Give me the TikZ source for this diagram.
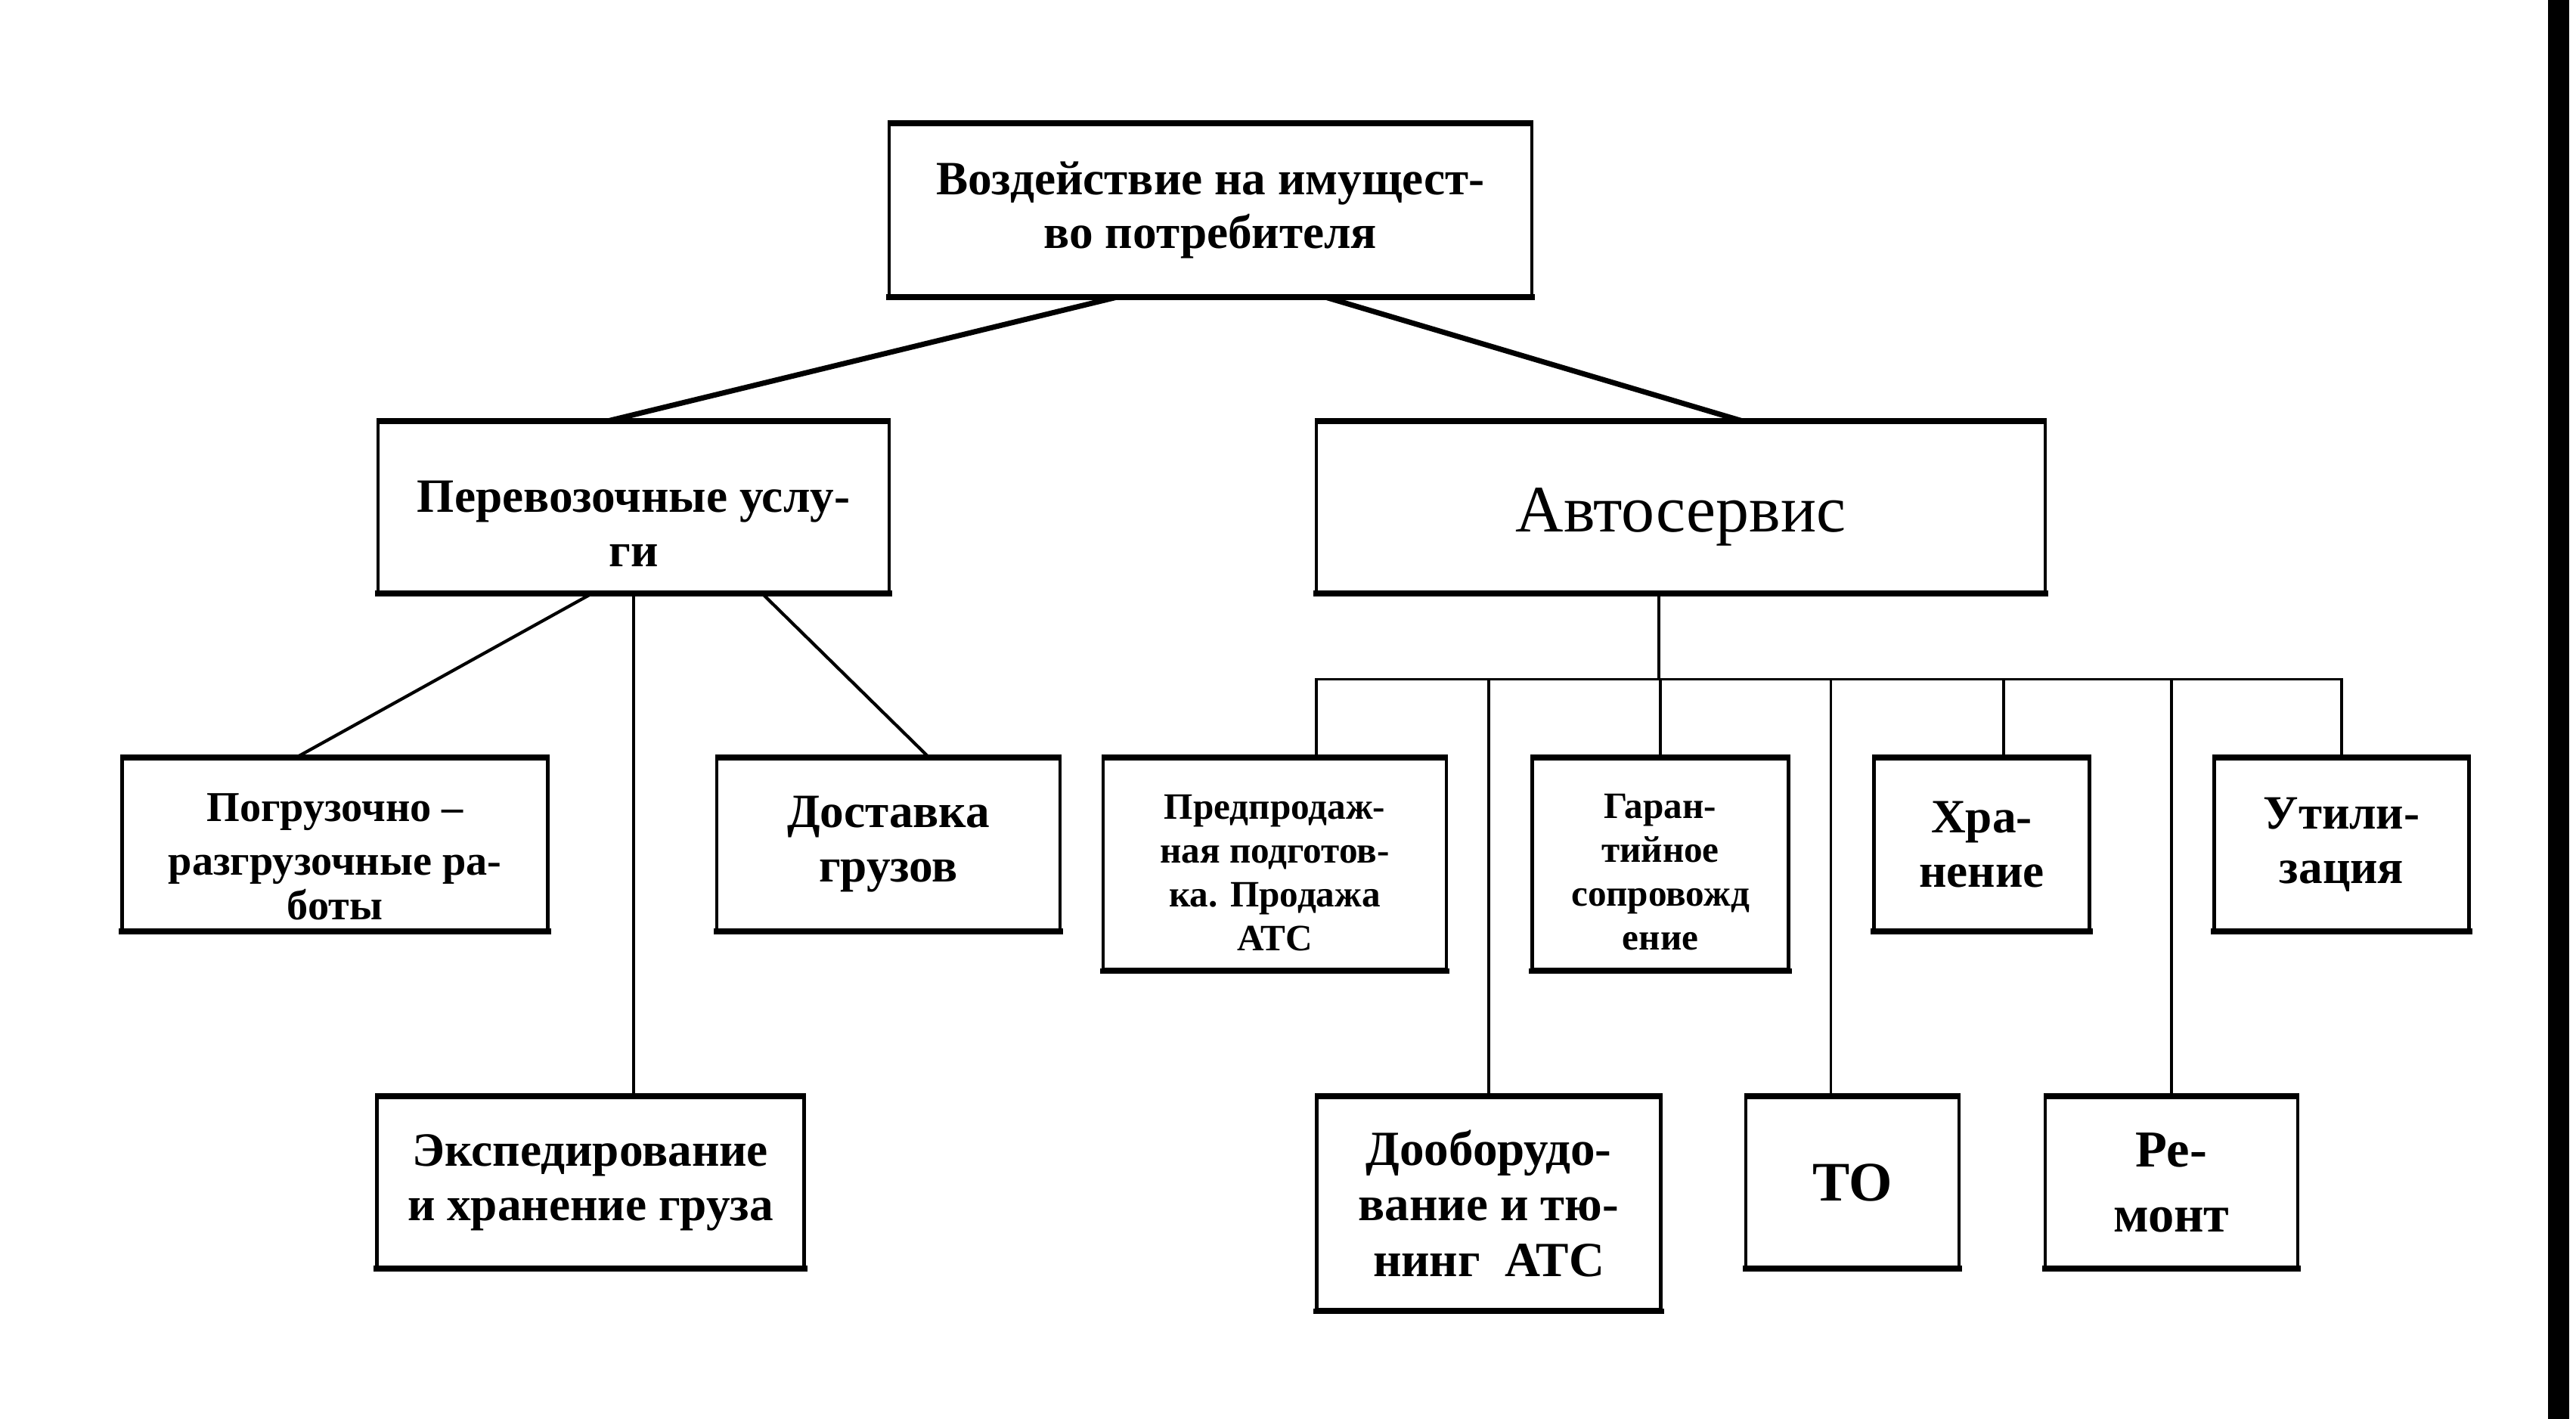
\documentclass[tikz,border=0pt]{standalone}
\usepackage{fontspec}
\setmainfont{Liberation Serif}
\usetikzlibrary{calc}
\newcommand\midbold{\fontsize{18}{20.5}\selectfont\bfseries}
\newcommand\smallbold{\fontsize{14}{16.5}\selectfont\bfseries}
\begin{document}
\begin{tikzpicture}[
    box/.style={draw, line width=1.2pt, inner sep=0pt, align=center, font=\midbold},
    link/.style={line width=2pt},
    twig/.style={line width=0.9pt}
  ]
  \useasboundingbox (0, 0) rectangle (34.07, 18.77) ;
  % scan edge on the right
  \fill (33.70, 0) rectangle (33.98, 18.77) ;

  \node[box, minimum width=8.50cm, minimum height=2.26cm, font=\fontsize{18}{20}\selectfont\bfseries] (top) at (16.01, 15.99)
    {Воздействие на имущест-\\во потребителя} ;
  \node[box, minimum width=6.76cm, minimum height=2.24cm] (per) at (8.38, 12.06)
    {\rule{0pt}{24pt}Перевозочные услу-\\ги} ;
  \node[box, minimum width=9.64cm, minimum height=2.24cm, font=\fontsize{25}{30}\selectfont] (as) at (22.23, 12.06)
    {\rule{0pt}{24pt}Автосервис} ;

  \node[box, minimum width=5.63cm, minimum height=2.26cm, font=\fontsize{16}{20}\selectfont\bfseries] (pog) at (4.43, 7.60)
    {\rule{0pt}{20pt}Погрузочно –\\разгрузочные ра-\\[-3pt]боты} ;
  \node[box, minimum width=4.54cm, minimum height=2.26cm] (dos) at (11.75, 7.60)
    {Доставка\\грузов} ;
  \node[box, minimum width=5.65cm, minimum height=2.24cm] (eks) at (7.81, 3.13)
    {Экспедирование\\и хранение груза} ;

  \node[box, minimum width=4.54cm, minimum height=2.79cm, font=\smallbold] (pre) at (16.86, 7.34)
    {\rule{0pt}{16pt}Предпродаж-\\ная подготов-\\ка. Продажа\\АТС} ;
  \node[box, minimum width=3.39cm, minimum height=2.79cm, font=\smallbold] (gar) at (21.96, 7.34)
    {\rule{0pt}{15pt}Гаран-\\тийное\\сопровожд\\ение} ;
  \node[box, minimum width=2.85cm, minimum height=2.26cm] (hr) at (26.21, 7.60)
    {Хра-\\нение} ;
  \node[box, minimum width=3.37cm, minimum height=2.26cm] (ut) at (30.97, 7.60)
    {Утили-\\зация} ;
  \node[box, minimum width=4.55cm, minimum height=2.81cm, font=\fontsize{18.5}{21}\selectfont\bfseries] (dob) at (19.69, 2.85)
    {Дооборудо-\\вание и тю-\\нинг~ АТС} ;
  \node[box, minimum width=2.82cm, minimum height=2.24cm, font=\fontsize{21}{25}\selectfont\bfseries] (to) at (24.50, 3.13)
    {ТО} ;
  \node[box, minimum width=3.34cm, minimum height=2.24cm, font=\fontsize{19.5}{24.5}\selectfont\bfseries] (rem) at (28.72, 3.13)
    {Ре-\\монт} ;

  % heavier top and bottom edges, as printed
  \foreach \b in {top, per, as, pog, dos, eks, pre, gar, hr, ut, dob, to, rem}
    \draw[line width=2.2pt, shorten <=-0.6pt, shorten >=-0.6pt]
      (\b.north west) -- (\b.north east) (\b.south west) -- (\b.south east) ;

  % top level
  \draw[link] ($(top.south west)!0.355!(top.south east)$) -- ($(per.north west)!0.45!(per.north east)$) ;
  \draw[link] ($(top.south west)!0.678!(top.south east)$) -- ($(as.north west)!0.584!(as.north east)$) ;

  % transport services
  \draw[twig, line width=1.2pt] ($(per.south west)!0.419!(per.south east)$) -- ($(pog.north west)!0.41!(pog.north east)$) ;
  \draw[twig, line width=1.2pt] ($(per.south west)!0.75!(per.south east)$) -- ($(dos.north west)!0.617!(dos.north east)$) ;
  \draw[twig] (per.south) -- (per.south |- eks.north) ;

  % car service bus
  \coordinate (hub) at ($(as.south west)!0.47!(as.south east) + (0, -1.13)$) ;
  \draw[twig] (hub) -- (hub |- as.south) ;
  \draw[twig] ($(pre.north west)!0.62!(pre.north east)$) |- (hub) ;
  \draw[twig] (dob.north) |- (hub) ;
  \draw[twig] (gar.north) |- (hub) ;
  \draw[twig] ($(to.north west)!0.40!(to.north east)$) |- (hub) ;
  \draw[twig] ($(hr.north west)!0.60!(hr.north east)$) |- (hub) ;
  \draw[twig] (rem.north) |- (hub) ;
  \draw[twig] (ut.north) |- (hub) ;
\end{tikzpicture}
\end{document}
